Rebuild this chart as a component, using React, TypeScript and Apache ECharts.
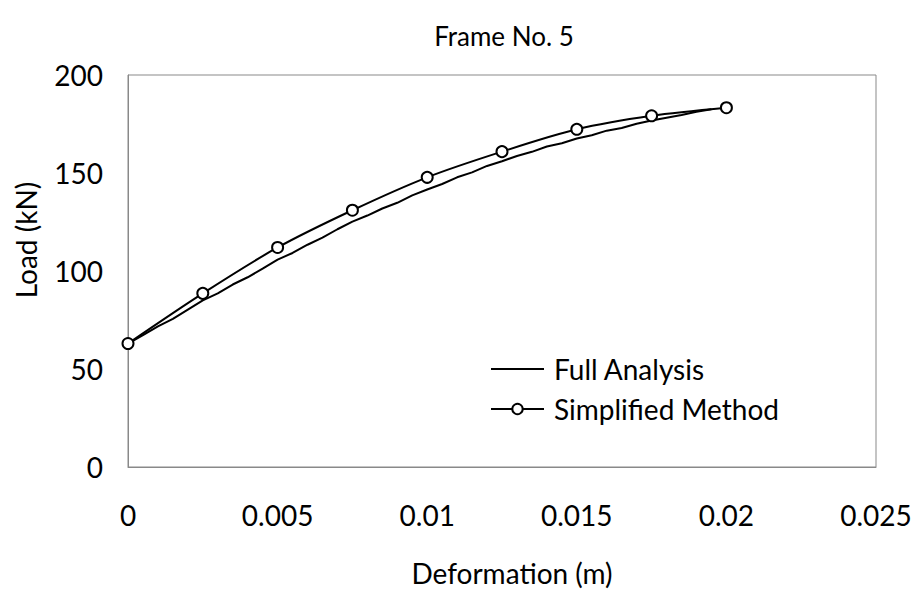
import React, { useEffect, useRef } from "react";
import * as echarts from "echarts";

const fullX = [
  0, 0.0005, 0.001, 0.0015, 0.002, 0.0025, 0.003, 0.0035, 0.004, 0.0045,
  0.005, 0.0055, 0.006, 0.0065, 0.007, 0.0075, 0.008, 0.0085, 0.009, 0.0095,
  0.01, 0.0105, 0.011, 0.0115, 0.012, 0.0125, 0.013, 0.0135, 0.014, 0.0145,
  0.015, 0.0155, 0.016, 0.0165, 0.017, 0.0175, 0.018, 0.0185, 0.019, 0.0195,
];
const fullY = [
  63, 67.3, 71.8, 75.6, 80.3, 85.0, 88.6, 93.1, 96.8, 101.2,
  105.8, 109.2, 113.4, 117.0, 121.3, 125.2, 128.3, 131.9, 134.8, 138.6,
  141.6, 144.4, 147.8, 150.3, 153.6, 156.0, 158.7, 160.8, 163.5, 165.2,
  167.6, 169.3, 171.6, 173.0, 175.1, 176.8, 178.2, 179.6, 181.2, 182.5,
];
const simpX = [0, 0.0025, 0.005, 0.0075, 0.01, 0.0125, 0.015, 0.0175, 0.02];
const simpY = [63, 88.6, 112, 131, 147.8, 160.9, 172.3, 179.2, 183.3];

const FONT = "Lato, 'Open Sans', sans-serif";

export default function App() {
  const ref = useRef<HTMLDivElement>(null);
  useEffect(() => {
    if (!ref.current) return;
    const chart = echarts.init(ref.current, undefined, { renderer: "svg" });
    chart.setOption({
      animation: false,
      backgroundColor: "#fff",
      title: {
        text: "Frame No. 5",
        left: 499,
        top: 18,
        textAlign: "center",
        textStyle: { fontFamily: FONT, fontSize: 26, fontWeight: "normal", color: "#000" },
      },
      grid: {
        left: 128,
        right: 42,
        top: 75,
        bottom: 129,
        show: true,
        borderColor: "#898989",
        borderWidth: 1,
      },
      legend: {
        orient: "vertical",
        left: 485,
        top: 350,
        itemWidth: 53,
        itemHeight: 13,
        itemGap: 12,
        textStyle: { fontFamily: FONT, fontSize: 28, color: "#000", padding: [0, 0, 0, 5] },
        data: [
          { name: "Full Analysis", itemStyle: { opacity: 0 } },
          { name: "Simplified Method" },
        ],
      },
      xAxis: {
        type: "value",
        min: 0,
        max: 0.025,
        interval: 0.005,
        name: "Deformation (m)",
        nameLocation: "middle",
        nameGap: 92,
        nameTextStyle: { fontFamily: FONT, fontSize: 28, color: "#000", padding: [0, 0, 0, 20] },
        axisLine: { show: true, lineStyle: { color: "#898989" } },
        axisTick: { show: false },
        splitLine: { show: false },
        axisLabel: { fontFamily: FONT, fontSize: 28, color: "#000", margin: 34 },
      },
      yAxis: {
        type: "value",
        min: 0,
        max: 200,
        interval: 50,
        name: "Load (kN)",
        nameLocation: "middle",
        nameGap: 88,
        nameTextStyle: { fontFamily: FONT, fontSize: 28, color: "#000", padding: [0, 0, 0, 62] },
        axisLine: { show: true, lineStyle: { color: "#898989" } },
        axisTick: { show: false },
        splitLine: { show: false },
        axisLabel: { fontFamily: FONT, fontSize: 28, color: "#000", margin: 25 },
      },
      series: [
        {
          name: "Full Analysis",
          type: "line",
          data: fullX.map((x, i) => [x, fullY[i]]),
          symbol: "none",
          lineStyle: { color: "#000", width: 2 },
          itemStyle: { color: "#000" },
        },
        {
          name: "Simplified Method",
          type: "line",
          data: simpX.map((x, i) => [x, simpY[i]]),
          smooth: 0.3,
          symbol: "emptyCircle",
          symbolSize: 11,
          lineStyle: { color: "#000", width: 2 },
          itemStyle: { color: "#000", borderColor: "#000", borderWidth: 1.5 },
        },
      ],
    });
    return () => chart.dispose();
  }, []);
  return (
    <div
      ref={ref}
      style={{ position: "fixed", left: 0, top: 0, width: 918, height: 596 }}
    />
  );
}
